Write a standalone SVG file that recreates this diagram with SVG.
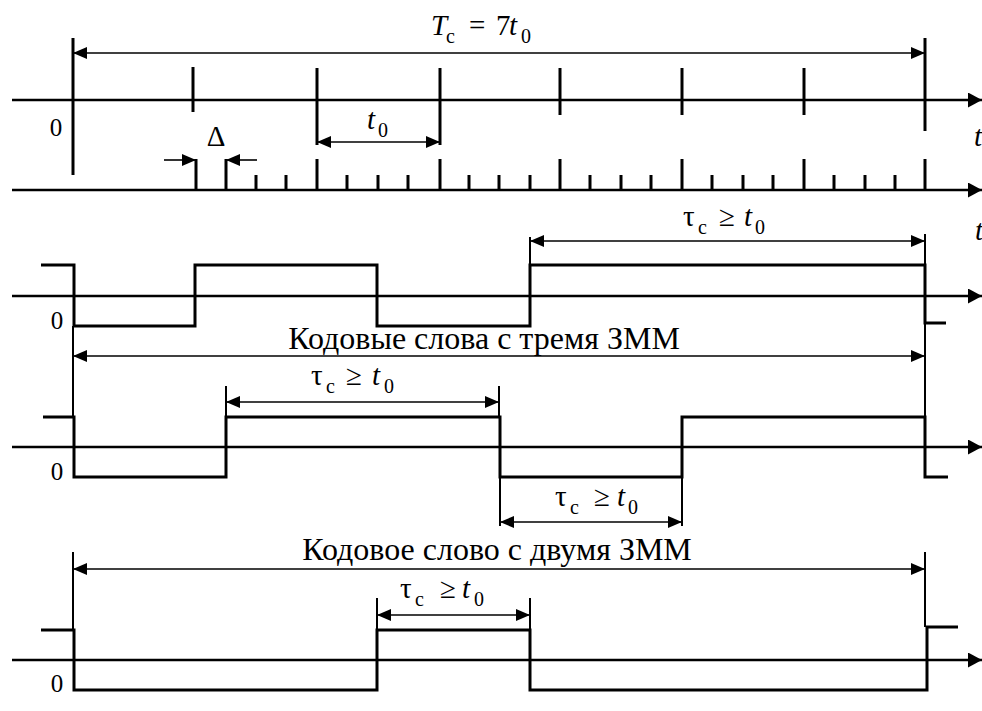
<svg xmlns="http://www.w3.org/2000/svg" width="982" height="711" viewBox="0 0 982 711">
<style>
.ax{stroke:#000;stroke-width:2.5;fill:none}
.tk{stroke:#000;stroke-width:3;fill:none}
.sig{stroke:#000;stroke-width:3;fill:none;stroke-linejoin:miter}
.dim{stroke:#000;stroke-width:1.6;fill:none}
.ext{stroke:#000;stroke-width:2;fill:none}
.lbl{font-size:32px}
.big{font-size:29px}
.sub{font-size:20px}
.it{font-style:italic}
.zero{font-size:25px}
</style>
<defs>
<marker id="ah" viewBox="0 0 14 12" refX="14" refY="6" markerWidth="14" markerHeight="12" markerUnits="userSpaceOnUse" orient="auto-start-reverse"><path d="M0,0 L14,6 L0,12 z" fill="#000"/></marker>
<marker id="axh" viewBox="0 0 14 15" refX="14" refY="7.5" markerWidth="14" markerHeight="15" markerUnits="userSpaceOnUse" orient="auto"><path d="M0,0 L14,7.5 L0,15 z" fill="#000"/></marker>
</defs>

<g id="connectors">
<line class="ax" x1="12" y1="100" x2="982" y2="100" marker-end="url(#axh)"/>
<line class="ax" x1="12" y1="190" x2="982" y2="190" marker-end="url(#axh)"/>
<line class="ax" x1="12" y1="296" x2="982" y2="296" marker-end="url(#axh)"/>
<line class="ax" x1="12" y1="447" x2="982" y2="447" marker-end="url(#axh)"/>
<line class="ax" x1="12" y1="660" x2="982" y2="660" marker-end="url(#axh)"/>

<line class="dim" x1="73" y1="53" x2="925" y2="53" marker-start="url(#ah)" marker-end="url(#ah)"/>
<line class="dim" x1="317" y1="142" x2="440" y2="142" marker-start="url(#ah)" marker-end="url(#ah)"/>
<line class="dim" x1="164" y1="160" x2="196" y2="160" marker-end="url(#ah)"/>
<line class="dim" x1="257" y1="160" x2="226" y2="160" marker-end="url(#ah)"/>
<line class="dim" x1="530" y1="241" x2="925" y2="241" marker-start="url(#ah)" marker-end="url(#ah)"/>
<line class="dim" x1="73" y1="356" x2="925" y2="356" marker-start="url(#ah)" marker-end="url(#ah)"/>
<line class="dim" x1="226" y1="402" x2="499" y2="402" marker-start="url(#ah)" marker-end="url(#ah)"/>
<line class="dim" x1="500" y1="522" x2="682" y2="522" marker-start="url(#ah)" marker-end="url(#ah)"/>
<line class="dim" x1="73" y1="569" x2="925" y2="569" marker-start="url(#ah)" marker-end="url(#ah)"/>
<line class="dim" x1="377" y1="615" x2="530" y2="615" marker-start="url(#ah)" marker-end="url(#ah)"/>

<line class="ext" x1="530" y1="237" x2="530" y2="265"/>
<line class="ext" x1="925" y1="234" x2="925" y2="265"/>
<line class="ext" x1="73" y1="326" x2="73" y2="417"/>
<line class="ext" x1="925" y1="322" x2="925" y2="417"/>
<line class="ext" x1="226" y1="386" x2="226" y2="417"/>
<line class="ext" x1="499" y1="386" x2="499" y2="417"/>
<line class="ext" x1="500" y1="477" x2="500" y2="526"/>
<line class="ext" x1="682" y1="477" x2="682" y2="526"/>
<line class="ext" x1="73" y1="552" x2="73" y2="630"/>
<line class="ext" x1="925" y1="552" x2="925" y2="627"/>
<line class="ext" x1="377" y1="598" x2="377" y2="630"/>
<line class="ext" x1="530" y1="598" x2="530" y2="630"/>
</g>

<g id="ticks-top">
<line class="tk" x1="73" y1="38" x2="73" y2="175"/>
<line class="tk" x1="193" y1="67" x2="193" y2="112"/>
<line class="tk" x1="317" y1="68" x2="317" y2="145"/>
<line class="tk" x1="440" y1="68" x2="440" y2="145"/>
<line class="tk" x1="560" y1="68" x2="560" y2="115"/>
<line class="tk" x1="682" y1="68" x2="682" y2="115"/>
<line class="tk" x1="804" y1="68" x2="804" y2="115"/>
<line class="tk" x1="925" y1="38" x2="925" y2="131"/>
</g>

<g id="ticks-fine">
<path class="tk" d="M196,159V190M226,159V190M317,159V190M440,159V190M560,159V190M682,159V190M804,159V190M925,159V190"/>
<path class="tk" d="M256,175V190M286,175V190M347,175V190M378,175V190M408,175V190M469,175V190M499,175V190M530,175V190M590,175V190M621,175V190M651,175V190M712,175V190M743,175V190M773,175V190M834,175V190M865,175V190M895,175V190"/>
</g>

<g id="signal-1">
<polyline class="sig" points="41,265 74,265 74,326 195,326 195,265 377,265 377,326 530,326 530,265 925,265 925,323 946,323"/>
</g>
<g id="signal-2">
<polyline class="sig" points="43,417 74,417 74,477 226,477 226,417 500,417 500,477 682,477 682,417 925,417 925,477 948,477"/>
</g>
<g id="signal-3">
<polyline class="sig" points="41,630 74,630 74,690 377,690 377,630 530,630 530,690 927,690 927,627 958,627"/>
</g>

<g id="labels" font-family="'Liberation Serif', 'Times New Roman', serif" fill="#000">
<text class="big" y="35"><tspan class="it" x="431">T</tspan><tspan class="sub" x="446" y="43">c</tspan><tspan x="469" y="35">=</tspan><tspan x="496">7</tspan><tspan class="it" x="509">t</tspan><tspan class="sub" x="521" y="43">0</tspan></text>
<text class="zero" x="56" y="136" text-anchor="middle">0</text>
<text class="big" x="216" y="146" text-anchor="middle">Δ</text>
<text class="big" y="129"><tspan class="it" x="367">t</tspan><tspan class="sub" x="378" y="137">0</tspan></text>
<text class="big it" x="974" y="146">t</text>
<text class="big it" x="975" y="240">t</text>

<text class="big" y="226"><tspan x="683">τ</tspan><tspan class="sub" x="698" y="234">c</tspan><tspan x="719" y="226">≥</tspan><tspan class="it" x="744">t</tspan><tspan class="sub" x="755" y="234">0</tspan></text>
<text class="zero" x="57" y="329" text-anchor="middle">0</text>
<text class="lbl" x="484" y="349" text-anchor="middle">Кодовые слова с тремя ЗММ</text>

<text class="big" y="385"><tspan x="311">τ</tspan><tspan class="sub" x="326" y="393">c</tspan><tspan x="346" y="385">≥</tspan><tspan class="it" x="372">t</tspan><tspan class="sub" x="384" y="393">0</tspan></text>
<text class="zero" x="57" y="480" text-anchor="middle">0</text>

<text class="big" y="506"><tspan x="555">τ</tspan><tspan class="sub" x="570" y="514">c</tspan><tspan x="594" y="506">≥</tspan><tspan class="it" x="617">t</tspan><tspan class="sub" x="628" y="514">0</tspan></text>
<text class="lbl" x="497" y="560" text-anchor="middle">Кодовое слово с двумя ЗММ</text>

<text class="big" y="598"><tspan x="400">τ</tspan><tspan class="sub" x="415" y="606">c</tspan><tspan x="440" y="598">≥</tspan><tspan class="it" x="462">t</tspan><tspan class="sub" x="474" y="606">0</tspan></text>
<text class="zero" x="57" y="692" text-anchor="middle">0</text>
</g>
</svg>
